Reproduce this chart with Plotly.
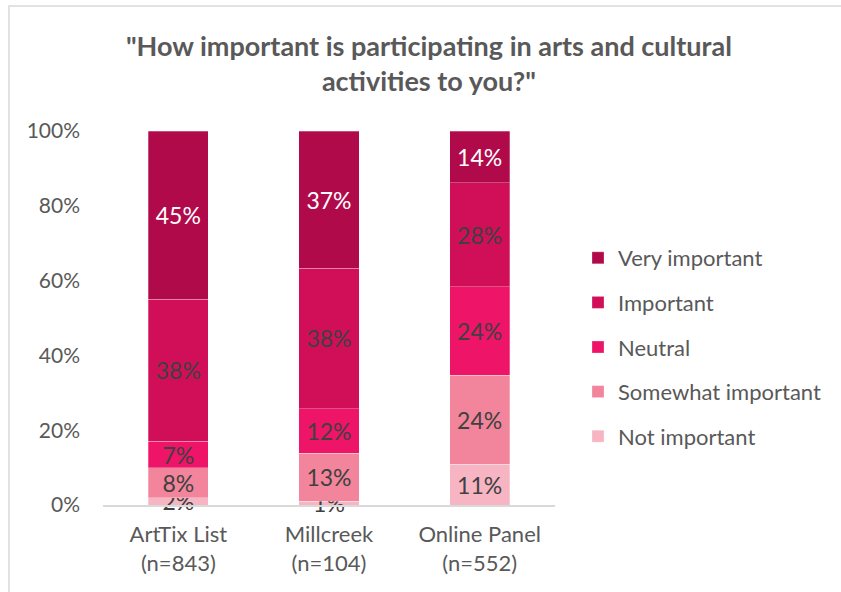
import plotly.graph_objects as go

# Survey groups and response shares (percent)
groups = ["ArtTix List<br>(n=843)", "Millcreek<br>(n=104)", "Online Panel<br>(n=552)"]
not_important = [2, 1, 11]
somewhat_important = [8, 13, 24]
neutral = [7, 12, 24]
important = [38, 38, 28]
very_important = [45, 37, 14]

# (name, values, fill colour, label colour)
series = [
    ("Not important", not_important, "#F7B5C3", "#404040"),
    ("Somewhat important", somewhat_important, "#F2859B", "#404040"),
    ("Neutral", neutral, "#EE1468", "#404040"),
    ("Important", important, "#D10F59", "#404040"),
    ("Very important", very_important, "#B10A4B", "#FFFFFF"),
]

FONT = "Lato, 'Open Sans', sans-serif"

fig = go.Figure()
for i, (name, vals, color, label_color) in enumerate(series):
    fig.add_trace(go.Bar(
        name=name,
        x=groups,
        y=vals,
        marker=dict(color=color, line=dict(width=0.8, color="rgba(255,255,255,0.35)")),
        text=[f"{v}%" for v in vals],
        textposition="inside",
        insidetextanchor="middle",
        constraintext="none",
        cliponaxis=False,
        textfont=dict(family=FONT, size=23, color=label_color),
        legendgroup=name,
        legendrank=len(series) - i,
        hoverinfo="name+y",
    ))

L, R, T, B = 103, 286, 131, 87
W, H = 841, 592
pw, ph = W - L - R, H - T - B

def px_x(x):
    return (x - L) / pw

def px_y(y):
    return (H - B - y) / ph

fig.update_layout(
    width=W, height=H,
    barmode="stack",
    barnorm="percent",
    bargap=0.6,
    margin=dict(l=L, r=R, t=T, b=B),
    paper_bgcolor="white",
    plot_bgcolor="white",
    title=dict(
        text='"How important is participating in arts and cultural<br>activities to you?"',
        x=0.51, xanchor="center", y=0.905, yanchor="middle",
        font=dict(family=FONT, size=27, color="#595959", weight="bold"),
    ),
    font=dict(family=FONT, color="#595959"),
    legend=dict(
        x=px_x(578), xanchor="left", y=px_y(237), yanchor="top",
        traceorder="grouped", tracegroupgap=13,
        font=dict(family=FONT, size=22, color="#595959"),
        itemwidth=30,
    ),
    xaxis=dict(
        showline=True, linecolor="#D9D9D9", linewidth=1.5,
        ticks="", ticklabelstandoff=9,
        tickfont=dict(family=FONT, size=22, color="#595959"),
        showgrid=False,
    ),
    yaxis=dict(
        range=[0, 100], tickvals=[0, 20, 40, 60, 80, 100],
        ticktext=["0%", "20%", "40%", "60%", "80%", "100%"],
        showgrid=False, zeroline=False, showline=False,
        ticks="", ticklabelstandoff=22,
        tickfont=dict(family=FONT, size=21, color="#595959"),
    ),
    shapes=[dict(
        type="rect", xref="paper", yref="paper",
        x0=px_x(9), x1=px_x(W + 20), y0=px_y(H + 20), y1=px_y(6),
        line=dict(color="#D9D9D9", width=1.5), layer="below",
    )],
)

fig.write_html("out.html")
